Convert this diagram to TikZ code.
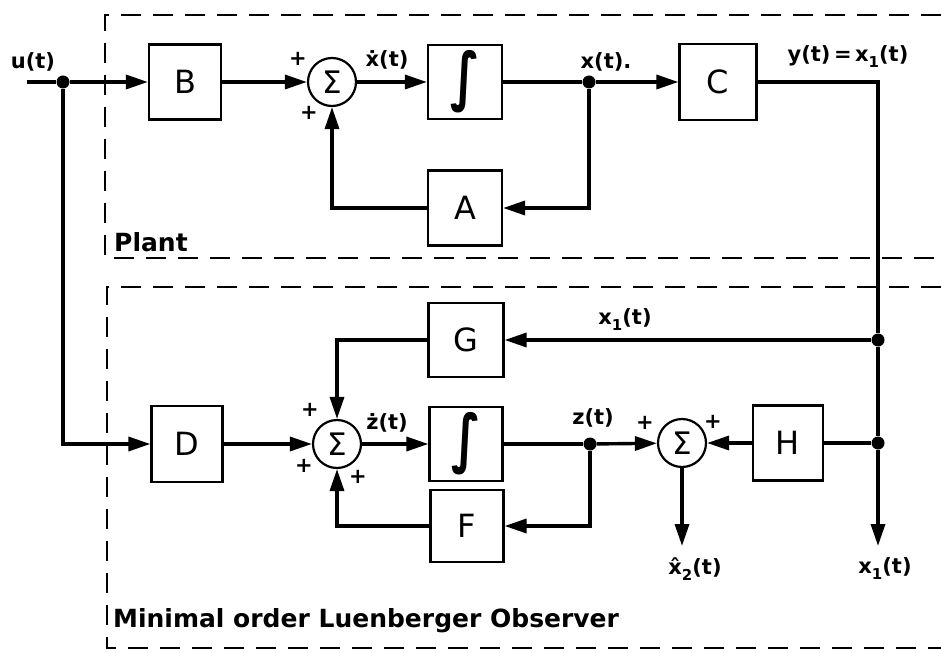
\documentclass[tikz,border=0pt]{standalone}
\usepackage{graphicx}
\usepackage{fontspec}
\setmainfont{DejaVu Sans}
\usetikzlibrary{arrows.meta}
\newcommand{\subone}[1]{\raisebox{-6pt}{\fontsize{15}{15}\selectfont #1}}
\newcommand{\tallint}{\scalebox{1.1}[1.45]{∫}}
\begin{document}
\begin{tikzpicture}[x=1pt,y=-1pt,
 blk/.style={draw,line width=2.2pt,minimum width=72pt,minimum height=75pt,inner sep=0pt,font=\fontsize{32}{32}\selectfont},
 intblk/.style={blk,font=\bfseries\fontsize{44}{44}\selectfont},
 sumn/.style={draw,circle,line width=2.2pt,minimum size=48pt,inner sep=0pt,font=\fontsize{31}{31}\selectfont},
 sig/.style={line width=3.4pt},
 arr/.style={sig,-{Triangle[length=22pt,width=14pt]}},
 jdot/.style={circle,fill,inner sep=0pt,minimum size=13pt},
 lbl/.style={font=\bfseries\fontsize{21}{21}\selectfont,inner sep=0pt},
 pm/.style={font=\bfseries\fontsize{21}{21}\selectfont,inner sep=0pt},
 ttl/.style={font=\bfseries\fontsize{25}{25}\selectfont,inner sep=0pt,anchor=west},
 frame/.style={line width=2pt,dash pattern=on 20pt off 12pt}]
\useasboundingbox (0,0) rectangle (941,652);

% dashed frames
\draw[frame] (941,15) -- (105,15) -- (105,258) -- (941,258);
\draw[frame] (941,287) -- (107,287) -- (107,648) -- (941,648);

% plant blocks
\node[blk] (B) at (185,82) {B};
\node[sumn] (S1) at (332,82) {Σ};
\node[intblk,minimum width=74pt,minimum height=74pt] (I1) at (465,82) {\tallint};
\node[blk,minimum width=77pt,minimum height=76pt] (C) at (718,82) {C};
\node[blk,minimum width=74pt] (A) at (465,208) {A};
\node[jdot] (j1) at (63,82) {};
\node[jdot] (j2) at (589,82) {};
\coordinate (uin) at (27,82);
\coordinate (cr) at (878,82);

% observer blocks
\node[blk,minimum width=71pt,minimum height=76pt] (D) at (187,444) {D};
\node[sumn] (S2) at (337,444) {Σ};
\node[intblk,minimum width=73pt,minimum height=74pt] (I2) at (466,444) {\tallint};
\node[blk,minimum width=75pt,minimum height=74pt] (G) at (466,340) {G};
\node[blk,minimum width=73pt,minimum height=72pt] (F) at (467,526) {F};
\node[sumn] (S3) at (682,443) {Σ};
\node[blk,minimum width=70pt,minimum height=75pt] (H) at (788,443) {H};
\node[jdot] (j3) at (590,444) {};
\node[jdot] (j4) at (878,443) {};
\node[jdot] (j5) at (878,340) {};
\coordinate (x1out) at (878,546);
\coordinate (x2out) at (682,546);

% plant connectors
\draw[sig] (uin) -- (j1);
\draw[arr] (j1) -- (B);
\draw[arr] (B) -- (S1);
\draw[arr] (S1) -- (I1);
\draw[sig] (I1) -- (j2);
\draw[arr] (j2) -- (C);
\draw[arr] (j2) |- (A);
\draw[arr] (A) -| (S1);
\draw[sig] (C) -- (cr) -- (j5);

% observer connectors
\draw[sig] (j5) -- (j4);
\draw[arr] (j4) -- (x1out);
\draw[arr] (j5) -- (G);
\draw[arr] (j1) |- (D);
\draw[arr] (D) -- (S2);
\draw[arr] (G) -| (S2);
\draw[arr] (F) -| (S2);
\draw[arr] (S2) -- (I2);
\draw[sig] (I2) -- (j3);
\draw[arr] (j3) -- (S3);
\draw[arr] (j3) |- (F);
\draw[sig] (j4) -- (H);
\draw[arr] (H) -- (S3);
\draw[arr] (S3) -- (x2out);

% labels
\node[lbl] (lu) at (33,62) {u(t)};
\node[lbl] (lxd) at (387,60) {\.x(t)};
\node[lbl] (lx) at (606,62) {x(t).};
\node[lbl] (ly) at (848,57) {y(t)\,=\,x\subone{1}(t)};
\node[lbl] (lx1a) at (625,320) {x\subone{1}(t)};
\node[lbl] (lzd) at (387,423) {ż(t)};
\node[lbl] (lz) at (593,418) {z(t)};
\node[lbl] (lx2) at (695,569) {\^x\subone{2}(t)};
\node[lbl] (lx1b) at (885,569) {x\subone{1}(t)};
\node[ttl] (tp) at (114,242) {Plant};
\node[ttl] (to) at (113,621) {Minimal order Luenberger Observer};

% signs
\node[pm] (p1) at (298,59) {+};
\node[pm] (p2) at (309,113) {+};
\node[pm] (p3) at (310,410) {+};
\node[pm] (p4) at (304,466) {+};
\node[pm] (p5) at (358,477) {+};
\node[pm] (p6) at (645,423) {+};
\node[pm] (p7) at (713,422) {+};
\end{tikzpicture}
\end{document}
